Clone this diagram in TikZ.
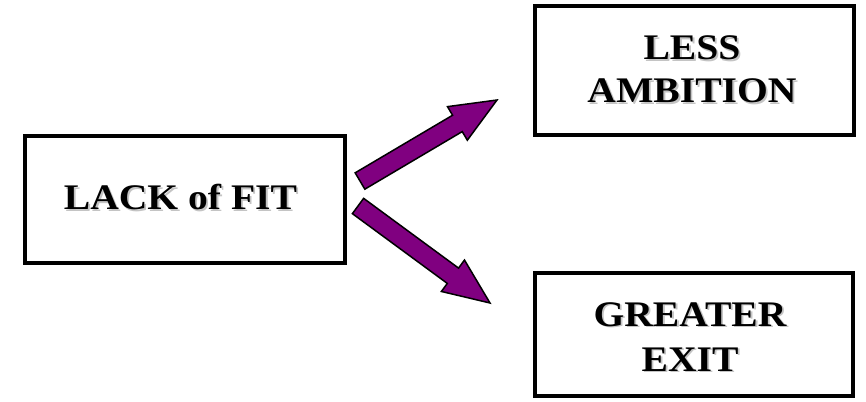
\documentclass[tikz,border=0pt]{standalone}
\usepackage{fontspec}
\usetikzlibrary{calc}
\newfontfamily\boxfont[FakeStretch=1.1]{Liberation Serif}
\definecolor{arrowpurple}{HTML}{800080}
\definecolor{shadowgray}{HTML}{C4C4C4}
% word with a soft grey drop shadow behind it
\newcommand\shtext[1]{\leavevmode\rlap{\kern1.8pt\raisebox{-1.8pt}{\textcolor{shadowgray}{#1}}}#1}
% block arrow from tail point to tip point
\newcommand\blockarrow[2]{%
  \draw[fatarrow] let \p1=($(#2)-(#1)$), \n1={atan2(\y1,\x1)}, \n2={veclen(\x1,\y1)-46pt} in
    ($(#1)+(\n1+90:9.5pt)$) -- ++(\n1:\n2) -- ++(\n1+90:10pt) -- (#2)
    -- ($(#1)+(\n1:\n2)+(\n1-90:19.5pt)$) -- ++(\n1+90:10pt)
    -- ($(#1)+(\n1-90:9.5pt)$) -- cycle;}
\tikzset{
  box/.style={draw=black, line width=4pt, inner sep=0pt, fill=white},
  boxtext/.style={align=center, inner sep=0pt,
    font=\boxfont\bfseries\fontsize{36}{44}\selectfont},
  fatarrow/.style={draw=black, line width=1.5pt, fill=arrowpurple, line join=miter},
}
\begin{document}
\begin{tikzpicture}[x=1pt, y=1pt]
  \useasboundingbox (0,0) rectangle (866,-401);
  % boxes
  \node[box, minimum width=320pt, minimum height=127pt] (lack) at (184.5,-199) {};
  \node[box, minimum width=319.5pt, minimum height=129pt] (less) at (694.25,-70.5) {};
  \node[box, minimum width=317.5pt, minimum height=123pt] (exit) at (693.75,-334) {};
  % labels
  \node[boxtext] (lacktext) at (180.5,-198.4) {\shtext{LACK of FIT}};
  \node[boxtext] (lesstext) at (692,-69.9) {\shtext{LESS}\\[-1pt]\shtext{AMBITION}};
  \node[boxtext] (exittext) at (690,-337.6) {\shtext{GREATER}\\[1pt]\shtext{EXIT}};
  % arrows
  \coordinate (up tail) at (360,-181);
  \coordinate (up tip) at (497,-100);
  \coordinate (down tail) at (358,-206);
  \coordinate (down tip) at (490,-303);
  \blockarrow{up tail}{up tip}
  \blockarrow{down tail}{down tip}
\end{tikzpicture}
\end{document}
